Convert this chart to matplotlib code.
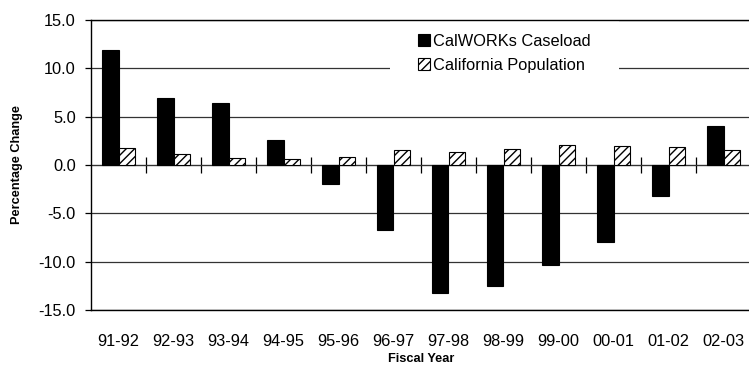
import numpy as np
import matplotlib
matplotlib.use('Agg')
from matplotlib import pyplot as plt
from matplotlib.ticker import FormatStrFormatter

plt.rcParams['font.family'] = ['Liberation Sans', 'DejaVu Sans']
plt.rcParams['hatch.linewidth'] = 1.0

years = ['91-92', '92-93', '93-94', '94-95', '95-96', '96-97',
         '97-98', '98-99', '99-00', '00-01', '01-02', '02-03']
caseload = [11.9, 6.9, 6.4, 2.6, -2.0, -6.7, -13.2, -12.5, -10.3, -8.0, -3.2, 4.0]
population = [1.8, 1.1, 0.7, 0.6, 0.8, 1.55, 1.3, 1.7, 2.05, 2.0, 1.85, 1.6]

W, H = 749, 366
fig = plt.figure(figsize=(W / 100, H / 100), dpi=100)
ax = fig.add_axes([91 / W, 56 / H, 660 / W, 290 / H])

x = np.arange(len(years))
bw = 0.3
ax.bar(x - bw / 2, caseload, bw, color='black', edgecolor='black', linewidth=0.8,
       label='CalWORKs Caseload', zorder=3)
ax.bar(x + bw / 2, population, bw, color='white', edgecolor='black', linewidth=0.8,
       hatch='////', label='California Population', zorder=3)

ax.set_xlim(-0.5, len(years) - 0.5)
ax.set_ylim(-15, 15)
ax.set_yticks([-15, -10, -5, 0, 5, 10, 15])
ax.yaxis.set_major_formatter(FormatStrFormatter('%.1f'))
ax.set_axisbelow(True)
ax.grid(axis='y', color='#333333', linewidth=0.9)

ax.set_xticks(x)
ax.set_xticklabels(years)
ax.tick_params(axis='x', length=0, pad=17, labelsize=11.8)
ax.tick_params(axis='y', direction='out', length=4, width=0.9, pad=7, labelsize=11.8)

for s in ['top', 'left', 'bottom']:
    ax.spines[s].set_linewidth(1.0)
    ax.spines[s].set_color('black')
ax.spines['right'].set_visible(False)

# zero line with category separator ticks
sec = ax.secondary_xaxis(0.5)
sec.set_xticks(x[:-1] + 0.5)
sec.set_xticklabels([])
sec.tick_params(axis='x', direction='inout', length=12, width=0.9)
sec.spines['bottom'].set_linewidth(1.0)

leg = ax.legend(loc='upper left', bbox_to_anchor=(390 / W, 1 - 6 / H),
                bbox_transform=fig.transFigure, frameon=True, fancybox=False,
                edgecolor='none', facecolor='white', framealpha=1,
                fontsize=11.8, handlelength=0.75, handleheight=0.7,
                handletextpad=0.2, labelspacing=0.55, borderpad=1.7,
                borderaxespad=0)
leg.set_zorder(2)

fig.text(17 / W, 1 - 165 / H, 'Percentage Change', rotation=90, ha='center',
         va='center', fontsize=9.2, fontweight='bold')
fig.text(421 / W, 1 / H, 'Fiscal Year', ha='center', va='bottom',
         fontsize=9.2, fontweight='bold')

fig.savefig('out.png', dpi=100)
